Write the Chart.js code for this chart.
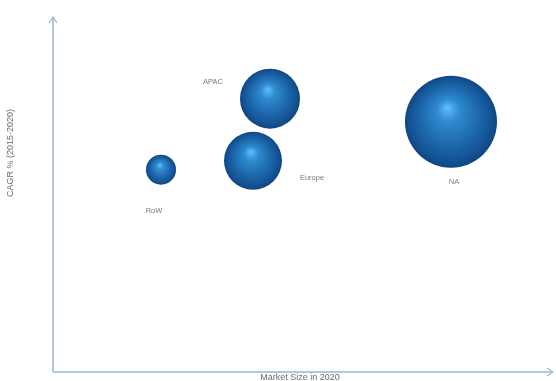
<!DOCTYPE html>
<html>
<head>
<meta charset="utf-8">
<script src="https://cdn.jsdelivr.net/npm/chart.js@4/dist/chart.umd.min.js"></script>
<style>
html,body{margin:0;padding:0;background:#fff;}
#wrap{width:556px;height:381px;position:relative;}
</style>
</head>
<body>
<div id="wrap"><canvas id="c"></canvas></div>
<script>
// Data (arbitrary units; no tick labels in the original)
const regions = ["RoW", "Europe", "APAC", "NA"];
const marketSize = [21.6, 40.0, 43.4, 79.6];      // x: Market Size in 2020
const cagr = [11.4, 11.9, 15.4, 14.1];            // y: CAGR % (2015-2020)
const bubbleSize = [15, 29, 30, 46];              // bubble radius
const xTitle = "Market Size in 2020";
const yTitle = "CAGR % (2015-2020)";

// label placement relative to bubble centre (dx, dy in px)
const labelOffsets = {RoW:[-7, 41], Europe:[59, 17], APAC:[-57, -17], NA:[3, 60]};

const points = regions.map((r, i) => ({x: marketSize[i], y: cagr[i], r: bubbleSize[i], label: r}));

function sphere(ctx) {
  const chart = ctx.chart;
  const raw = ctx.raw;
  if (!raw || !chart.scales.x || !chart.chartArea) return '#1f6bb0';
  const cx = chart.scales.x.getPixelForValue(raw.x);
  const cy = chart.scales.y.getPixelForValue(raw.y);
  const r = raw.r;
  if (!isFinite(cx) || !isFinite(cy) || !isFinite(r)) return '#1f6bb0';
  const g = chart.ctx.createRadialGradient(cx - 0.08 * r, cy - 0.32 * r, 0, cx, cy, r);
  g.addColorStop(0, '#5fc0f5');
  g.addColorStop(0.25, '#2f8ad0');
  g.addColorStop(0.65, '#1c66aa');
  g.addColorStop(0.9, '#135192');
  g.addColorStop(1, '#0f4680');
  return g;
}

const axisPlugin = {
  id: 'arrowAxes',
  beforeDatasetsDraw(chart) {
    const c = chart.ctx, a = chart.chartArea;
    c.save();
    c.strokeStyle = '#9fb6cc';
    c.lineWidth = 1.5;
    c.beginPath();
    c.moveTo(a.left, a.bottom);
    c.lineTo(a.left, a.top);
    c.moveTo(a.left, a.bottom);
    c.lineTo(a.right, a.bottom);
    c.stroke();
    c.lineWidth = 1.2;
    c.beginPath();
    c.moveTo(a.left - 4, a.top + 6); c.lineTo(a.left, a.top); c.lineTo(a.left + 4, a.top + 6);
    c.moveTo(a.right - 6, a.bottom - 4); c.lineTo(a.right, a.bottom); c.lineTo(a.right - 6, a.bottom + 4);
    c.stroke();
    // titles
    c.fillStyle = '#6b6b6b';
    c.font = '9px "Liberation Sans", Arial, sans-serif';
    c.textAlign = 'center';
    c.textBaseline = 'middle';
    c.fillText(xTitle, 300, a.bottom + 6);
    c.translate(11, 153);
    c.rotate(-Math.PI / 2);
    c.fillText(yTitle, 0, 0);
    c.restore();
  },
  afterDatasetsDraw(chart) {
    const c = chart.ctx;
    const meta = chart.getDatasetMeta(0);
    c.save();
    c.fillStyle = '#7a7a7a';
    c.font = '7.5px "Liberation Sans", Arial, sans-serif';
    c.textAlign = 'center';
    c.textBaseline = 'middle';
    meta.data.forEach((el, i) => {
      const lab = regions[i];
      const off = labelOffsets[lab];
      c.fillText(lab, el.x + off[0], el.y + off[1]);
    });
    c.restore();
  }
};

new Chart(document.getElementById('c'), {
  type: 'bubble',
  data: {
    datasets: [{
      data: points,
      backgroundColor: sphere,
      borderWidth: 0,
      hoverBorderWidth: 0,
      clip: false
    }]
  },
  options: {
    responsive: true,
    maintainAspectRatio: false,
    animation: false,
    events: [],
    layout: {autoPadding: false, padding: {left: 53, right: 3, top: 17, bottom: 9}},
    plugins: {legend: {display: false}, tooltip: {enabled: false}},
    scales: {
      x: {type: 'linear', display: false, min: 0, max: 100},
      y: {type: 'linear', display: false, min: 0, max: 20}
    }
  },
  plugins: [axisPlugin]
});
</script>
</body>
</html>
